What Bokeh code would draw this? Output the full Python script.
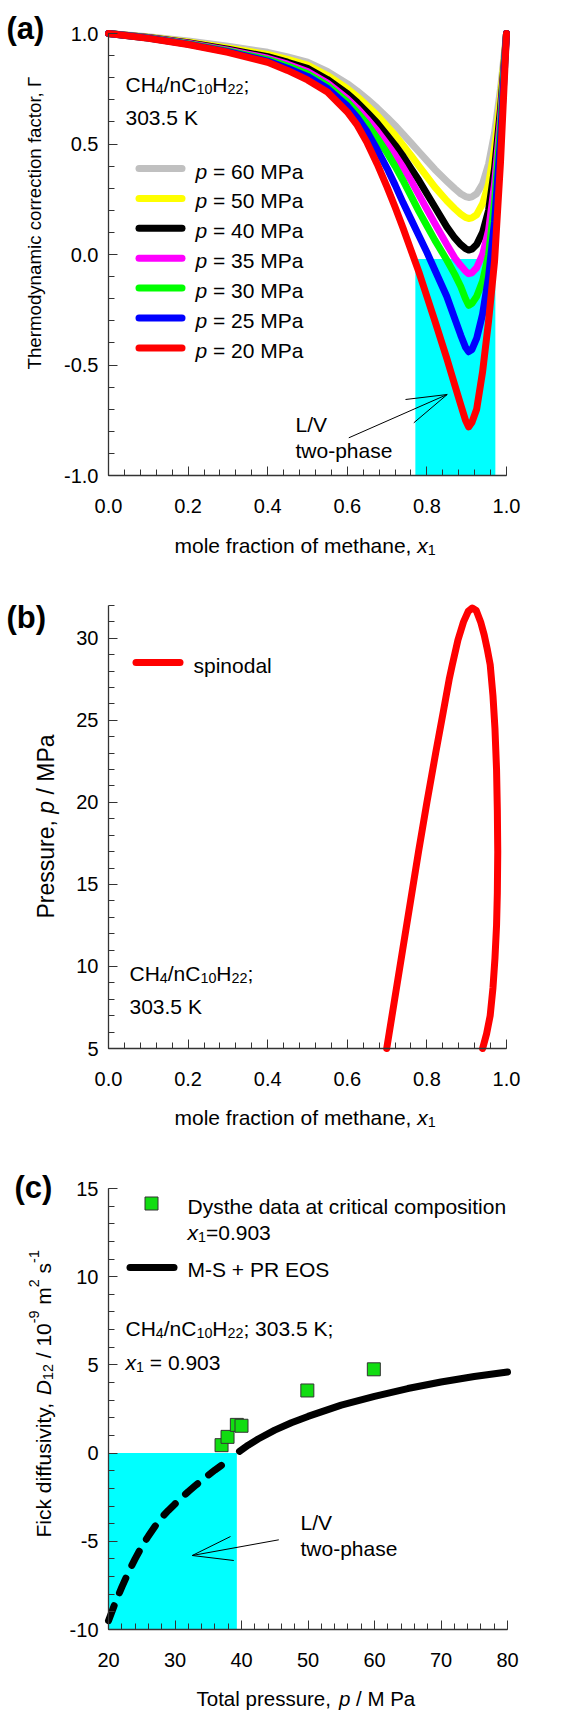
import math
from bokeh.plotting import figure
from bokeh.models import (Range1d, FixedTicker, CustomJSTickFormatter, Label,
                          Arrow, BoxAnnotation)
from bokeh.layouts import column
from bokeh.embed import file_html
from bokeh.resources import INLINE

FONT = "Liberation Sans"

# ---------------- data: panel (a) ----------------
x_methane = [0.0, 0.1, 0.2, 0.3, 0.4, 0.45, 0.5, 0.55, 0.6, 0.625, 0.65, 0.675, 0.7, 0.72,
             0.74, 0.76, 0.78, 0.8, 0.82, 0.85, 0.87, 0.885, 0.897, 0.905, 0.913, 0.925,
             0.94, 0.955, 0.97, 0.985, 1.0]
gamma_60 = [1.0, 0.985, 0.966, 0.942, 0.915, 0.894, 0.87, 0.828, 0.773, 0.74, 0.703, 0.663,
            0.62, 0.584, 0.545, 0.505, 0.465, 0.425, 0.385, 0.332, 0.298, 0.275, 0.262, 0.258,
            0.261, 0.275, 0.32, 0.41, 0.55, 0.75, 1.0]
gamma_50 = [1.0, 0.983, 0.962, 0.935, 0.905, 0.883, 0.857, 0.81, 0.75, 0.714, 0.673, 0.63,
            0.58, 0.54, 0.495, 0.448, 0.4, 0.352, 0.305, 0.243, 0.207, 0.183, 0.168, 0.163,
            0.166, 0.18, 0.23, 0.32, 0.48, 0.71, 1.0]
gamma_40 = [1.0, 0.982, 0.958, 0.929, 0.895, 0.87, 0.842, 0.792, 0.728, 0.688, 0.643, 0.595,
            0.54, 0.495, 0.445, 0.39, 0.335, 0.275, 0.215, 0.125, 0.075, 0.045, 0.027, 0.02,
            0.024, 0.045, 0.1, 0.2, 0.39, 0.66, 1.0]
gamma_35 = [1.0, 0.981, 0.956, 0.925, 0.888, 0.861, 0.828, 0.776, 0.705, 0.662, 0.613, 0.56,
            0.5, 0.45, 0.395, 0.335, 0.27, 0.205, 0.14, 0.045, -0.015, -0.05, -0.075, -0.087,
            -0.083, -0.06, 0.0, 0.11, 0.32, 0.62, 1.0]
gamma_30 = [1.0, 0.98, 0.954, 0.921, 0.882, 0.853, 0.818, 0.765, 0.69, 0.643, 0.59, 0.527,
            0.46, 0.4, 0.335, 0.265, 0.195, 0.13, 0.065, -0.025, -0.09, -0.145, -0.2, -0.23,
            -0.222, -0.19, -0.12, 0.0, 0.24, 0.58, 1.0]
gamma_25 = [1.0, 0.979, 0.952, 0.918, 0.875, 0.843, 0.806, 0.752, 0.672, 0.62, 0.555, 0.475,
            0.39, 0.315, 0.235, 0.16, 0.085, 0.01, -0.07, -0.19, -0.29, -0.365, -0.42, -0.44,
            -0.43, -0.38, -0.27, -0.1, 0.15, 0.52, 1.0]
gamma_20 = [1.0, 0.978, 0.95, 0.915, 0.87, 0.833, 0.79, 0.735, 0.645, 0.585, 0.505, 0.41,
            0.305, 0.215, 0.12, 0.02, -0.08, -0.19, -0.3, -0.47, -0.59, -0.68, -0.75, -0.78,
            -0.76, -0.7, -0.53, -0.3, -0.03, 0.42, 1.0]
pressures_a = ["60", "50", "40", "35", "30", "25", "20"]
colors_a = ["#C0C0C0", "#FFFF00", "#000000", "#FF00FF", "#00FF00", "#0000FF", "#FF0000"]
gammas = [gamma_60, gamma_50, gamma_40, gamma_35, gamma_30, gamma_25, gamma_20]
two_phase_x = [0.771, 0.972]
two_phase_gamma = [-1.0, -0.02]

# ---------------- data: panel (b) ----------------
spinodal_x = [0.699, 0.719, 0.739, 0.759, 0.779, 0.8, 0.822, 0.841, 0.856, 0.864,
              0.878, 0.892, 0.904, 0.914, 0.924, 0.935, 0.944, 0.952, 0.959, 0.966, 0.971,
              0.975, 0.977, 0.978, 0.977, 0.975, 0.971, 0.966, 0.959, 0.95, 0.94]
spinodal_p = [5.0, 8.0, 11.0, 14.0, 17.0, 20.0, 23.0, 25.5, 27.5, 28.4,
              29.9, 31.0, 31.65, 31.85, 31.7, 31.0, 30.2, 29.3, 28.4, 26.5, 24.5,
              22.0, 19.5, 17.0, 14.5, 12.5, 10.5, 8.7, 7.0, 5.9, 5.0]

# ---------------- data: panel (c) ----------------
ms_unstable_p = [20, 21, 22, 23, 24, 25, 26, 27, 28, 29, 30, 31, 32, 33, 34, 35, 36, 37, 38, 38.6]
ms_unstable_D = [-9.5, -8.5, -7.6, -6.75, -6.0, -5.3, -4.7, -4.15, -3.65, -3.25, -2.88, -2.52,
                 -2.18, -1.86, -1.55, -1.25, -0.96, -0.69, -0.43, -0.27]
ms_stable_p = [39.7, 41, 42.5, 45, 47.5, 50, 55, 60, 65, 70, 75, 80]
ms_stable_D = [0.1, 0.45, 0.8, 1.3, 1.72, 2.08, 2.72, 3.22, 3.66, 4.03, 4.34, 4.6]
dysthe_p = [37.0, 37.9, 39.3, 40.0, 49.9, 59.9]
dysthe_D = [0.45, 0.92, 1.6, 1.55, 3.55, 4.75]
two_phase_p = [20.0, 39.3]
two_phase_D = [-10.0, 0.0]

# ---------------- layout frames (page pixels of the axes box) ----------------
FRAMES = {
    "a": dict(l=108, r=506, t=33, b=475, x0=0.0, x1=1.0, y0=-1.0, y1=1.0, top=0, h=580),
    "b": dict(l=108, r=506, t=605, b=1048, x0=0.0, x1=1.0, y0=5.0, y1=32.0, top=580, h=570),
    "c": dict(l=108, r=507, t=1188, b=1629, x0=20.0, x1=80.0, y0=-10.0, y1=15.0, top=1150, h=560),
}
PAGE_W = 582

W = {' ': 278, '(': 333, ')': 333, ',': 278, '-': 333, '.': 278, '/': 278, ';': 278,
     '=': 584, '+': 584, 'A': 667, 'C': 722, 'D': 722, 'E': 667, 'F': 611, 'H': 722,
     'K': 667, 'L': 556, 'M': 833, 'O': 778, 'P': 667, 'R': 722, 'S': 667, 'T': 611,
     'V': 667, 'a': 556, 'b': 556, 'c': 500, 'd': 556, 'e': 556, 'f': 278, 'g': 556,
     'h': 556, 'i': 222, 'k': 500, 'l': 222, 'm': 833, 'n': 556, 'o': 556, 'p': 556,
     'r': 333, 's': 500, 't': 278, 'u': 556, 'v': 500, 'w': 722, 'x': 500, 'y': 500,
     'Γ': 556}


def tw(s, fs):
    return sum(W.get(ch, 556) for ch in s) * fs / 1000.0


def to_data(fr, px, py):
    x = fr["x0"] + (px - fr["l"]) / (fr["r"] - fr["l"]) * (fr["x1"] - fr["x0"])
    y = fr["y1"] - (py - fr["t"]) / (fr["b"] - fr["t"]) * (fr["y1"] - fr["y0"])
    return x, y


def rich(p, fr, px, py, pieces, fs, angle=0.0, bold=False):
    sub_fs = round(fs * 0.68, 1)
    lift = 0.26 * fs
    x, y = to_data(fr, px, py)
    off = 0.0
    for t, k in pieces:
        small = k in ("sub", "sup")
        size = sub_fs if small else fs
        shift = -0.24 * fs if k == "sub" else (0.42 * fs if k == "sup" else 0.0)
        shift += lift
        style = "italic" if k == "i" else ("bold" if bold else "normal")
        lead = len(t) - len(t.lstrip(" "))
        o = off + tw(" " * lead, size)
        if angle == 0:
            xo, yo = o, shift
        else:
            xo, yo = -shift, o
        p.add_layout(Label(x=x, y=y, x_offset=xo, y_offset=yo, text=t.strip(), angle=angle,
                           text_font=FONT, text_font_size=f"{size}px", text_font_style=style,
                           text_color="black", text_align="left", text_baseline="alphabetic"))
        off += tw(t, size)


def seg(p, fr, a, b, color="black", width=1.0, cap="butt"):
    x0, y0 = to_data(fr, *a)
    x1, y1 = to_data(fr, *b)
    p.add_layout(Arrow(x_start=x0, y_start=y0, x_end=x1, y_end=y1, end=None,
                       line_color=color, line_width=width, line_cap=cap))


def make_fig(fr, xt, xm, yt, ym, xfmt, yfmt):
    sx = (fr["x1"] - fr["x0"]) / (fr["r"] - fr["l"])
    sy = (fr["y1"] - fr["y0"]) / (fr["b"] - fr["t"])
    xr = Range1d(fr["x0"] - fr["l"] * sx, fr["x1"] + (PAGE_W - fr["r"]) * sx)
    yr = Range1d(fr["y0"] - (fr["top"] + fr["h"] - fr["b"]) * sy, fr["y1"] + (fr["t"] - fr["top"]) * sy)
    p = figure(width=PAGE_W, height=fr["h"], x_range=xr, y_range=yr, output_backend="svg",
               toolbar_location=None, min_border=0)
    p.outline_line_color = None
    p.xgrid.grid_line_color = None
    p.ygrid.grid_line_color = None
    p.title.visible = False
    xa, ya = p.xaxis[0], p.yaxis[0]
    xa.fixed_location = fr["y0"]
    xa.bounds = (fr["x0"], fr["x1"])
    ya.fixed_location = fr["x0"]
    ya.bounds = (fr["y0"], fr["y1"])
    for ax, ticks, minor, fmt, so in ((xa, xt, xm, xfmt, 23), (ya, yt, ym, yfmt, 10)):
        ax.ticker = FixedTicker(ticks=ticks, minor_ticks=minor)
        ax.formatter = CustomJSTickFormatter(code=fmt)
        ax.axis_line_color = "#333333"
        ax.axis_line_width = 1.3
        ax.major_tick_in = 9
        ax.major_tick_out = 0
        ax.minor_tick_in = 6
        ax.minor_tick_out = 0
        ax.major_tick_line_color = "#333333"
        ax.minor_tick_line_color = "#333333"
        ax.major_label_text_font = FONT
        ax.major_label_text_font_size = "20px"
        ax.major_label_text_color = "black"
        ax.major_label_standoff = so
        ax.axis_label = None
    return p


F1 = "return tick.toFixed(1)"
F0 = "return tick.toFixed(0)"
x01 = [0.0, 0.2, 0.4, 0.6, 0.8, 1.0]
x01m = [i * 0.04 for i in range(26)]
CH = [("CH", "n"), ("4", "sub"), ("/nC", "n"), ("10", "sub"), ("H", "n"), ("22", "sub")]

# ================= panel (a) =================
fa = FRAMES["a"]
pa = make_fig(fa, x01, x01m, [-1.0, -0.5, 0.0, 0.5, 1.0], [-1.0 + 0.1 * i for i in range(21)], F1, F1)
pa.quad(left=[two_phase_x[0]], right=[two_phase_x[1]], bottom=[two_phase_gamma[0]],
        top=[two_phase_gamma[1]], fill_color="#00FFFF", line_color=None)
for g, c in zip(gammas, colors_a):
    pa.line(x_methane, g, line_color=c, line_width=7, line_cap="round", line_join="round")
rich(pa, fa, 6, 36, [("(a)", "n")], 31, bold=True)
rich(pa, fa, 125, 89, CH + [(";", "n")], 21)
rich(pa, fa, 125, 122, [("303.5 K", "n")], 21)
for i, (pr, c) in enumerate(zip(pressures_a, colors_a)):
    yc = 168 + 29.9 * i
    seg(pa, fa, (138.5, yc), (181.5, yc), color=c, width=7, cap="round")
    rich(pa, fa, 195, yc + 8, [("p", "i"), (f" = {pr} MPa", "n")], 21)
rich(pa, fa, 295, 429, [("L/V", "n")], 21)
rich(pa, fa, 295, 455, [("two-phase", "n")], 21)
seg(pa, fa, (348.3, 437.3), (446.7, 394.0))
seg(pa, fa, (446.7, 394.0), (405.0, 399.0))
seg(pa, fa, (446.7, 394.0), (413.3, 422.3))
rich(pa, fa, 39, 369, [("Thermodynamic correction factor, Γ", "n")], 18.7, angle=math.pi / 2)
rich(pa, fa, 174, 550, [("mole fraction of methane, ", "n"), ("x", "i"), ("1", "sub")], 21)

# ================= panel (b) =================
fb = FRAMES["b"]
pb = make_fig(fb, x01, x01m, [5, 10, 15, 20, 25, 30], list(range(5, 33)), F1, F0)
pb.line(spinodal_x, spinodal_p, line_color="#FF0000", line_width=7, line_cap="round",
        line_join="round")
rich(pb, fb, 6, 625, [("(b)", "n")], 31, bold=True)
seg(pb, fb, (135.5, 662), (179.5, 662), color="#FF0000", width=7, cap="round")
rich(pb, fb, 193, 670, [("spinodal", "n")], 21)
rich(pb, fb, 129, 978, CH + [(";", "n")], 21)
rich(pb, fb, 129, 1011, [("303.5 K", "n")], 21)
rich(pb, fb, 51, 918, [("Pressure, ", "n"), ("p", "i"), (" / MPa", "n")], 23, angle=math.pi / 2)
rich(pb, fb, 174, 1122, [("mole fraction of methane, ", "n"), ("x", "i"), ("1", "sub")], 21)

# ================= panel (c) =================
fc = FRAMES["c"]
pc = make_fig(fc, [20, 30, 40, 50, 60, 70, 80], list(range(20, 81, 2)),
              [-10, -5, 0, 5, 10, 15], list(range(-10, 16)), F0, F0)
pc.quad(left=[two_phase_p[0]], right=[two_phase_p[1]], bottom=[two_phase_D[0]],
        top=[two_phase_D[1]], fill_color="#00FFFF", line_color=None)
pc.line(ms_unstable_p, ms_unstable_D, line_color="black", line_width=7, line_cap="round",
        line_dash="16 14")
pc.line(ms_stable_p, ms_stable_D, line_color="black", line_width=7, line_cap="round")
pc.scatter(dysthe_p, dysthe_D, marker="square", size=13, fill_color="#11DD11",
           line_color="#333333", line_width=1)
rich(pc, fc, 14, 1195, [("(c)", "n")], 31, bold=True)
bl, bt = to_data(fc, 144.5, 1196.5)
br, bb = to_data(fc, 157.5, 1209.5)
pc.add_layout(BoxAnnotation(left=bl, right=br, top=bt, bottom=bb, fill_color="#11DD11",
                            fill_alpha=1.0, line_color="#333333", line_alpha=1.0, line_width=1))
rich(pc, fc, 187, 1211, [("Dysthe data at critical composition", "n")], 21)
rich(pc, fc, 187, 1237, [("x", "i"), ("1", "sub"), ("=0.903", "n")], 21)
seg(pc, fc, (129.5, 1267), (173.5, 1267), color="black", width=7, cap="round")
rich(pc, fc, 187, 1274, [("M-S + PR EOS", "n")], 21)
rich(pc, fc, 125, 1333, CH + [("; 303.5 K;", "n")], 21)
rich(pc, fc, 125, 1367, [("x", "i"), ("1", "sub"), (" = 0.903", "n")], 21)
rich(pc, fc, 300, 1527, [("L/V", "n")], 21)
rich(pc, fc, 300, 1553, [("two-phase", "n")], 21)
seg(pc, fc, (278.3, 1539.3), (191.7, 1555.0))
seg(pc, fc, (191.7, 1555.0), (230.0, 1536.0))
seg(pc, fc, (191.7, 1555.0), (233.3, 1560.0))
rich(pc, fc, 48, 1537, [("Fick diffusivity, ", "n"), ("D", "i"), ("12", "sub"), (" / 10", "n"),
                        ("-9", "sup"), (" m", "n"), ("2", "sup"), (" s", "n"), ("-1", "sup")],
     21, angle=math.pi / 2)
rich(pc, fc, 196, 1703, [("Total pressure, ", "n"), ("p", "i"), (" / M Pa", "n")], 20.5)

layout = column(pa, pb, pc, spacing=0)
open("out.html", "w").write(file_html(layout, INLINE))
